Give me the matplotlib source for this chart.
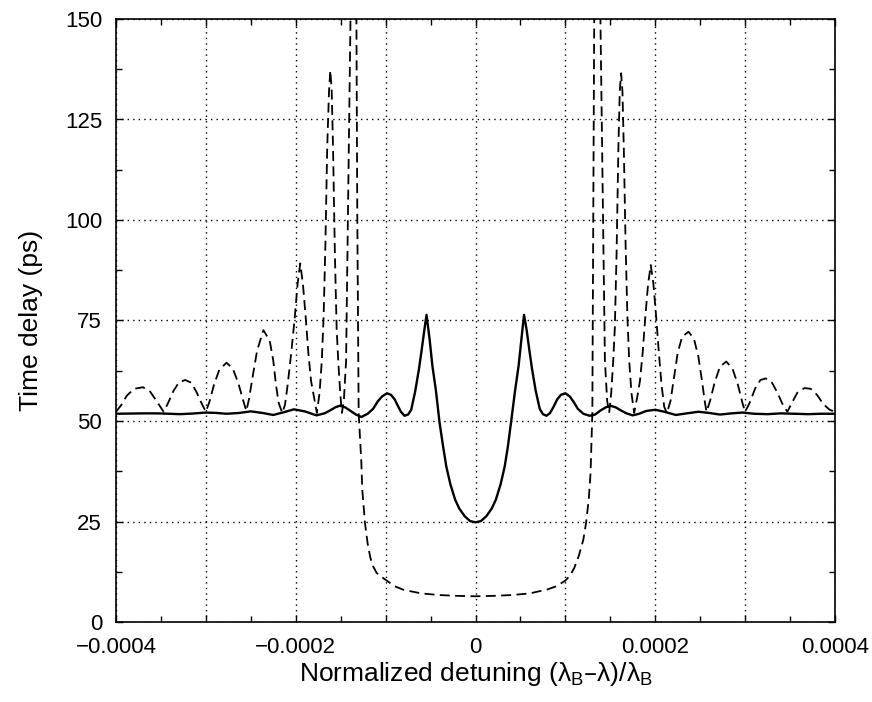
import numpy as np
import matplotlib
matplotlib.use("Agg")
import matplotlib.pyplot as plt
from matplotlib.ticker import MultipleLocator

plt.rcParams['font.family'] = ['Liberation Sans', 'DejaVu Sans']

# detuning values are given in units of 1e-4
x_unit = 1e-4

# solid curve (time delay, ps)
solid_x = [-4.0, -3.85, -3.7, -3.55, -3.4, -3.29, -3.15, -3.0, -2.88, -2.77, -2.63, -2.5, -2.37,
           -2.25, -2.13, -2.02, -1.9, -1.77, -1.68, -1.62, -1.56, -1.51, -1.45, -1.39, -1.33, -1.27,
           -1.2, -1.14, -1.09, -1.04, -0.985, -0.94, -0.9, -0.86, -0.83, -0.79, -0.75, -0.715,
           -0.67, -0.63, -0.60, -0.57, -0.545, -0.51, -0.48, -0.44, -0.40, -0.36, -0.325, -0.28,
           -0.226, -0.18, -0.12, -0.06, 0.0,
           0.06, 0.12, 0.18, 0.226, 0.28, 0.325, 0.36, 0.395, 0.44, 0.48, 0.51, 0.54, 0.57, 0.60,
           0.63, 0.67, 0.715, 0.75, 0.79, 0.83, 0.87, 0.91, 0.95, 1.0, 1.05, 1.09, 1.14, 1.2, 1.27,
           1.33, 1.39, 1.45, 1.5, 1.56, 1.62, 1.68, 1.75, 1.82, 1.9, 2.0, 2.1, 2.23, 2.35, 2.48,
           2.6, 2.72, 2.85, 2.97, 3.1, 3.25, 3.4, 3.55, 3.7, 3.85, 4.0]
solid_y = [51.8, 51.85, 51.9, 51.9, 51.8, 51.7, 51.85, 52.1, 52.0, 51.8, 52.0, 52.4, 52.0,
           51.5, 52.2, 52.9, 52.4, 51.4, 51.9, 52.6, 53.4, 53.8, 53.4, 52.5, 51.6, 51.0,
           51.8, 53.0, 54.8, 56.1, 56.9, 56.5, 55.4, 53.6, 52.3, 51.3, 51.6, 52.8,
           57.5, 62.8, 67.5, 72.5, 76.4, 70.2, 63.8, 57.5, 49.6, 43.6, 38.7, 34.3,
           30.4, 28.2, 26.3, 25.1, 24.8,
           25.1, 26.3, 28.2, 30.4, 34.3, 38.7, 43.6, 49.6, 57.5, 63.8, 70.2, 76.4, 72.5, 67.5,
           62.8, 57.5, 53.0, 51.7, 51.3, 52.0, 53.6, 55.4, 56.5, 56.9, 56.1, 54.8, 53.0, 51.8, 51.3,
           51.6, 52.6, 53.4, 53.8, 53.4, 52.6, 51.9, 51.4, 51.8, 52.5, 52.8, 52.3, 51.5, 51.9, 52.3,
           52.0, 51.6, 51.9, 52.1, 51.8, 51.7, 51.9, 51.8, 51.7, 51.8, 51.8]

# dashed curve (time delay, ps), the spike goes off the top of the chart
dashed_x = [-4.0, -3.94, -3.88, -3.8, -3.7, -3.62, -3.55, -3.47,
            -3.42, -3.36, -3.3, -3.23, -3.16, -3.1, -3.05, -3.0,
            -2.96, -2.91, -2.85, -2.77, -2.7, -2.64, -2.59, -2.55,
            -2.52, -2.48, -2.43, -2.36, -2.29, -2.25, -2.22, -2.19,
            -2.15, -2.12, -2.09, -2.05, -2.01, -1.98, -1.95, -1.92, -1.89, -1.86, -1.83, -1.79, -1.765,
            -1.735, -1.71, -1.69, -1.67, -1.65, -1.63, -1.615, -1.60, -1.585, -1.565, -1.545, -1.525, -1.505, -1.487,
            -1.465, -1.44, -1.42, -1.39, -1.355, -1.325, -1.315, -1.30, -1.27, -1.26, -1.23, -1.2, -1.17, -1.14,
            -1.1, -1.05, -1.0, -0.9, -0.8, -0.6, -0.4, -0.2, 0.0,
            0.2, 0.4, 0.6, 0.8, 0.9, 1.0, 1.05, 1.1, 1.15, 1.2, 1.23, 1.26, 1.28, 1.30, 1.31, 1.32,
            1.355, 1.39, 1.42, 1.44, 1.465, 1.487,
            1.51, 1.53, 1.55, 1.57, 1.59, 1.605, 1.62, 1.635, 1.65, 1.67, 1.69, 1.71, 1.735, 1.765,
            1.80, 1.83, 1.86, 1.89, 1.92, 1.95, 1.98, 2.01, 2.04, 2.07, 2.10, 2.13,
            2.17, 2.21, 2.25, 2.30, 2.37, 2.43, 2.48, 2.52, 2.55, 2.57,
            2.61, 2.66, 2.72, 2.79, 2.86, 2.92, 2.97, 3.0,
            3.05, 3.11, 3.17, 3.23, 3.30, 3.36, 3.42, 3.47,
            3.52, 3.58, 3.66, 3.73, 3.80, 3.87, 3.94, 4.0]
dashed_y = [52.3, 54.0, 56.3, 58.0, 58.4, 57.3, 55.0, 52.3,
            54.5, 57.5, 59.6, 60.2, 59.5, 57.0, 54.5, 52.3,
            54.8, 59.0, 62.8, 64.5, 63.0, 59.5, 55.5, 52.5,
            55.5, 61.0, 67.5, 72.6, 70.0, 65.0, 59.0, 54.5,
            52.0, 54.0, 59.0, 67.0, 76.0, 84.0, 89.2, 84.0, 76.0, 67.0, 60.0, 55.0, 52.0,
            57.0, 65.0, 76.0, 94.0, 118.0, 132.0, 137.2, 132.0, 118.0, 92.0, 73.0, 64.0, 57.0, 52.0,
            55.0, 65.0, 100.0, 150.0, 240.0, 150.0, 100.0, 52.0, 39.6, 33.0, 24.7, 19.5, 16.0, 13.9,
            12.2, 11.3, 10.5, 8.9, 8.0, 7.1, 6.7, 6.5, 6.4,
            6.5, 6.7, 7.1, 8.1, 8.9, 10.3, 11.5, 13.5, 16.5, 20.5, 24.6, 30.5, 37.0, 52.0, 100.0, 150.0,
            240.0, 150.0, 100.0, 65.0, 55.0, 52.0,
            57.0, 64.0, 73.0, 92.0, 118.0, 132.0, 136.5, 132.0, 118.0, 94.0, 76.0, 65.0, 57.0, 52.0,
            56.0, 60.0, 67.0, 76.0, 84.0, 88.8, 84.0, 76.0, 67.0, 59.0, 53.5, 52.0,
            55.0, 61.0, 67.0, 71.0, 72.2, 70.5, 66.0, 60.0, 55.0, 52.3,
            55.0, 59.5, 63.5, 64.8, 63.0, 59.0, 54.5, 52.3,
            54.5, 58.0, 60.2, 60.6, 59.5, 57.0, 54.0, 52.3,
            54.5, 57.0, 58.2, 58.0, 56.5, 54.2, 52.8, 52.3]

xticks = [-4, -3, -2, -1, 0, 1, 2, 3, 4]
xtick_labels = ["\u22120.0004", "", "\u22120.0002", "", "0", "", "0.0002", "", "0.0004"]
yticks = [0, 25, 50, 75, 100, 125, 150]

fig = plt.figure(figsize=(8.72, 7.02), dpi=100)
ax = fig.add_axes([116 / 872, 80 / 702, 719 / 872, 603 / 702])

ax.plot(np.array(solid_x) * x_unit, solid_y, color="black", lw=1.7, solid_joinstyle="round")
ax.plot(np.array(dashed_x) * x_unit, dashed_y, color="black", lw=1.3, dashes=(5.5, 3.0))

ax.set_xlim(-4 * x_unit, 4 * x_unit)
ax.set_ylim(0, 150)
ax.set_xticks(np.array(xticks) * x_unit, xtick_labels)
ax.set_yticks(yticks)
ax.xaxis.set_minor_locator(MultipleLocator(0.5 * x_unit))
ax.yaxis.set_minor_locator(MultipleLocator(12.5))
ax.tick_params(which="both", direction="in", top=True, right=True, labelsize=16)
ax.tick_params(which="major", length=5, width=1)
ax.tick_params(which="minor", length=4, width=1)
ax.tick_params(axis="x", which="major", pad=11)
ax.tick_params(axis="y", which="major", pad=10)
ax.grid(True, which="major", color="black", linestyle=(0, (1, 3)), linewidth=1.0)
for s in ax.spines.values():
    s.set_linewidth(1.2)

ax.set_xlabel("Normalized detuning (\u03bb$_\\mathregular{B}$\u2013\u03bb)/\u03bb$_\\mathregular{B}$",
              fontsize=19, labelpad=1)
ax.set_ylabel("Time delay (ps)", fontsize=19, labelpad=16)

fig.savefig("out.png", dpi=100)
